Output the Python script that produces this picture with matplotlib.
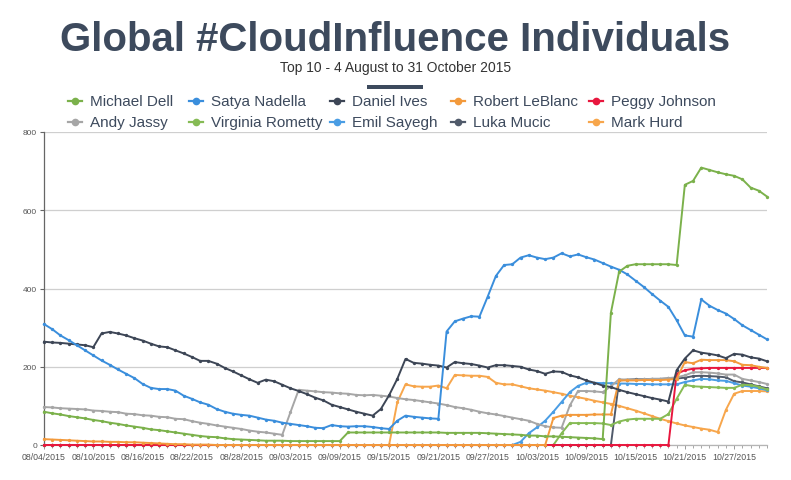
import matplotlib
matplotlib.use("Agg")
import matplotlib.dates as mdates
import matplotlib.pyplot as plt
import pandas as pd
from matplotlib.lines import Line2D
from matplotlib.patches import Rectangle

plt.rcParams["font.family"] = ["Liberation Sans", "DejaVu Sans"]

# one point per day, 4 Aug .. 31 Oct 2015
dates = pd.date_range("2015-08-04", "2015-10-31", freq="D")

michael_dell = [
    85, 81, 78, 74, 71, 68, 64, 61, 57, 54, 50, 47, 44, 40, 38, 35, 32, 29, 26, 23,
    21, 20, 17, 15, 14, 13, 12, 11, 11, 11, 10, 10, 10, 10, 10, 10, 10, 32, 32, 32,
    32, 32, 32, 32, 32, 32, 32, 32, 32, 31, 31, 31, 31, 31, 30, 29, 28, 27, 26, 24,
    24, 22, 22, 21, 20, 19, 18, 17, 15, 338, 443, 458, 462, 462, 462, 462, 462, 460, 665, 675,
    709, 703, 697, 692, 688, 679, 658, 650, 635,
]
satya_nadella = [
    309, 296, 280, 268, 255, 242, 229, 216, 205, 193, 182, 171, 156, 146, 143, 143, 139, 126, 118, 109,
    103, 92, 85, 80, 77, 75, 70, 65, 62, 57, 54, 51, 48, 44, 43, 51, 48, 47, 48, 48,
    46, 43, 41, 62, 75, 72, 70, 68, 67, 290, 316, 323, 329, 328, 379, 432, 460, 462, 479, 485,
    479, 475, 479, 490, 482, 487, 480, 474, 465, 456, 448, 436, 420, 404, 386, 369, 353, 319, 280, 277,
    372, 356, 345, 336, 322, 306, 294, 282, 270,
]
daniel_ives = [
    264, 262, 261, 259, 257, 255, 250, 285, 289, 285, 280, 273, 267, 259, 252, 250, 242, 234, 225, 215,
    215, 208, 197, 188, 178, 168, 159, 167, 163, 154, 145, 138, 130, 121, 114, 103, 97, 91, 85, 80,
    75, 92, 127, 169, 220, 210, 208, 205, 203, 198, 212, 209, 207, 203, 198, 204, 204, 202, 200, 193,
    189, 182, 188, 187, 178, 173, 165, 159, 152, 148, 141, 135, 130, 125, 120, 116, 111, 191, 221, 242,
    236, 233, 229, 222, 233, 231, 224, 221, 214,
]
robert_leblanc = [
    15, 14, 13, 12, 11, 10, 9, 9, 8, 8, 7, 7, 6, 5, 4, 3, 2, 2, 1, 1,
    1, 0, 0, 0, 0, 0, 0, 0, 0, 0, 0, 0, 0, 0, 0, 0, 0, 0, 0, 0,
    0, 0, 0, 0, 0, 0, 0, 0, 0, 0, 0, 0, 0, 0, 0, 0, 0, 0, 0, 0,
    0, 0, 69, 75, 77, 77, 77, 78, 78, 78, 165, 165, 165, 166, 166, 166, 167, 169, 212, 209,
    218, 217, 217, 217, 214, 205, 204, 200, 197,
]
peggy_johnson = [
    0, 0, 0, 0, 0, 0, 0, 0, 0, 0, 0, 0, 0, 0, 0, 0, 0, 0, 0, 0,
    0, 0, 0, 0, 0, 0, 0, 0, 0, 0, 0, 0, 0, 0, 0, 0, 0, 0, 0, 0,
    0, 0, 0, 0, 0, 0, 0, 0, 0, 0, 0, 0, 0, 0, 0, 0, 0, 0, 0, 0,
    0, 0, 0, 0, 0, 0, 0, 0, 0, 0, 0, 0, 0, 0, 0, 0, 0, 182, 191, 195,
    196, 197, 197, 197, 197, 197, 197, 197, 197,
]
andy_jassy = [
    97, 96, 94, 93, 92, 91, 88, 87, 85, 84, 80, 79, 76, 75, 72, 71, 67, 66, 61, 57,
    54, 50, 47, 44, 41, 37, 34, 32, 29, 26, 84, 141, 139, 137, 135, 134, 132, 131, 128, 127,
    128, 126, 124, 120, 117, 115, 112, 109, 106, 102, 97, 94, 90, 85, 81, 78, 74, 70, 66, 62,
    54, 48, 45, 44, 101, 138, 138, 137, 135, 150, 168, 167, 167, 168, 169, 169, 171, 173, 178, 186,
    186, 185, 183, 180, 180, 169, 165, 161, 156,
]
virginia_rometty = [
    0, 0, 0, 0, 0, 0, 0, 0, 0, 0, 0, 0, 0, 0, 0, 0, 0, 0, 0, 0,
    0, 0, 0, 0, 0, 0, 0, 0, 0, 0, 0, 0, 0, 0, 0, 0, 0, 0, 0, 0,
    0, 0, 0, 0, 0, 0, 0, 0, 0, 0, 0, 0, 0, 0, 0, 0, 0, 0, 0, 0,
    0, 0, 0, 30, 56, 56, 56, 56, 55, 51, 60, 65, 67, 67, 67, 67, 79, 118, 154, 150,
    149, 148, 147, 146, 146, 154, 153, 149, 142,
]
emil_sayegh = [
    0, 0, 0, 0, 0, 0, 0, 0, 0, 0, 0, 0, 0, 0, 0, 0, 0, 0, 0, 0,
    0, 0, 0, 0, 0, 0, 0, 0, 0, 0, 0, 0, 0, 0, 0, 0, 0, 0, 0, 0,
    0, 0, 0, 0, 0, 0, 0, 0, 0, 0, 0, 0, 0, 0, 0, 0, 0, 0, 8, 30,
    45, 62, 85, 110, 135, 151, 159, 159, 158, 158, 157, 157, 156, 156, 155, 155, 155, 155, 161, 165,
    169, 168, 165, 164, 158, 152, 149, 145, 140,
]
luka_mucic = [
    0, 0, 0, 0, 0, 0, 0, 0, 0, 0, 0, 0, 0, 0, 0, 0, 0, 0, 0, 0,
    0, 0, 0, 0, 0, 0, 0, 0, 0, 0, 0, 0, 0, 0, 0, 0, 0, 0, 0, 0,
    0, 0, 0, 0, 0, 0, 0, 0, 0, 0, 0, 0, 0, 0, 0, 0, 0, 0, 0, 0,
    0, 0, 0, 0, 0, 0, 0, 0, 0, 0, 165, 167, 168, 168, 169, 169, 170, 170, 172, 176,
    177, 176, 175, 173, 163, 160, 155, 150, 145,
]
mark_hurd = [
    0, 0, 0, 0, 0, 0, 0, 0, 0, 0, 0, 0, 0, 0, 0, 0, 0, 0, 0, 0,
    0, 0, 0, 0, 0, 0, 0, 0, 0, 0, 0, 0, 0, 0, 0, 0, 0, 0, 0, 0,
    0, 0, 0, 109, 155, 150, 149, 149, 152, 145, 179, 178, 177, 177, 174, 159, 155, 155, 150, 145,
    142, 139, 135, 131, 126, 122, 118, 113, 109, 105, 100, 94, 88, 81, 74, 67, 61, 55, 50, 46,
    42, 39, 33, 90, 131, 138, 138, 138, 137,
]

names = [
    "Michael Dell", "Satya Nadella", "Daniel Ives", "Robert LeBlanc", "Peggy Johnson",
    "Andy Jassy", "Virginia Rometty", "Emil Sayegh", "Luka Mucic", "Mark Hurd",
]
values = [
    michael_dell, satya_nadella, daniel_ives, robert_leblanc, peggy_johnson,
    andy_jassy, virginia_rometty, emil_sayegh, luka_mucic, mark_hurd,
]
colors = [
    "#7bb14b", "#3a8edc", "#3d4656", "#f39a3c", "#e8173e",
    "#a6a6a6", "#86bb55", "#4a9de4", "#505a6a", "#f7a64c",
]

TEXT = "#3d4a5d"
W, H = 791, 481

fig = plt.figure(figsize=(W / 100, H / 100), dpi=100)
ax = fig.add_axes([44 / W, 35 / H, 723 / W, 313 / H])

# first series ends up on top, like the original chart
for k, (name, vals, color) in enumerate(zip(names, values, colors)):
    ax.plot(dates, vals, color=color, lw=1.4, marker="o", ms=2.4, mew=0,
            label=name, clip_on=False, zorder=20 - k)

ax.set_xlim(dates[0], dates[-1])
ax.set_ylim(0, 800)
ax.set_yticks([0, 200, 400, 600, 800])
ax.grid(axis="y", color="#cfcfcf", lw=0.9)
ax.set_axisbelow(True)

ax.xaxis.set_major_locator(matplotlib.ticker.FixedLocator(mdates.date2num(dates[::6])))
ax.xaxis.set_minor_locator(matplotlib.ticker.FixedLocator(mdates.date2num(dates)))
ax.xaxis.set_major_formatter(mdates.DateFormatter("%m/%d/%Y"))

for side in ("top", "right"):
    ax.spines[side].set_visible(False)
ax.spines["left"].set_color("#666666")
ax.spines["left"].set_linewidth(0.9)
ax.spines["bottom"].set_color("#b5b5b5")
ax.spines["bottom"].set_linewidth(0.9)

ax.tick_params(axis="y", length=3, width=0.8, color="#666666",
               labelsize=6, labelcolor="#555555", pad=2)
ax.tick_params(axis="x", which="major", length=3, width=0.7, color="#999999",
               labelsize=6.3, labelcolor="#555555", pad=2)
ax.tick_params(axis="x", which="minor", length=2.5, width=0.6, color="#999999")

# header
fig.text(0.5, 1 - 40 / H, "Global #CloudInfluence Individuals", ha="center",
         va="center", fontsize=29, fontweight="bold", color=TEXT)
fig.text(0.5, 1 - 68 / H, "Top 10 - 4 August to 31 October 2015", ha="center",
         va="center", fontsize=10, color="#333333")
fig.add_artist(Rectangle((367 / W, 1 - 90 / H), 56 / W, 4 / H,
                         transform=fig.transFigure, color=TEXT, lw=0))

# legend laid out as in the reference: two rows of five
marker_x = [75, 196, 337, 458, 596]
row_y = [102, 123]
for k, (name, color) in enumerate(zip(names, colors)):
    mx = marker_x[k % 5]
    my = row_y[k // 5]
    fy = 1 - my / H
    fig.add_artist(Line2D([(mx - 7) / W, (mx + 7) / W], [fy, fy], color=color,
                          lw=1.6, transform=fig.transFigure))
    fig.add_artist(Line2D([mx / W], [fy], color=color, marker="o", ms=5.5, mew=0,
                          transform=fig.transFigure))
    fig.text((mx + 15) / W, fy, name, ha="left", va="center", fontsize=11,
             color=TEXT)

fig.savefig("out.png", dpi=100)
